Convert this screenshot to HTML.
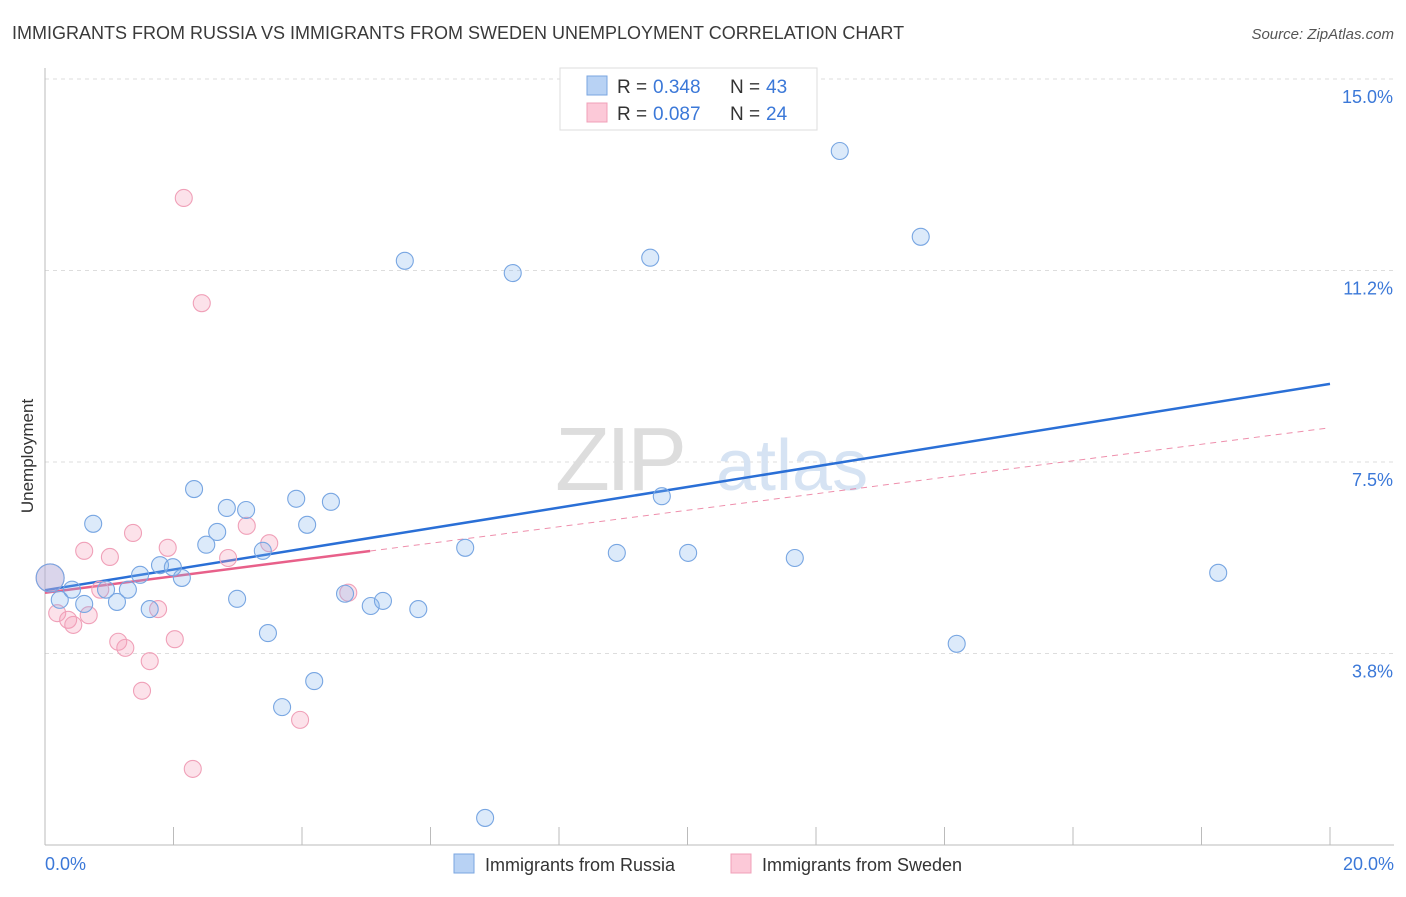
<!DOCTYPE html>
<html><head><meta charset="utf-8"><style>
body{margin:0;background:#fff;font-family:"Liberation Sans",sans-serif;}
svg text{font-family:"Liberation Sans",sans-serif;}
</style></head><body>
<svg id="chart" width="1406" height="892" viewBox="0 0 1406 892" xmlns="http://www.w3.org/2000/svg">
<text x="12" y="39" font-size="18" fill="#3a3a3a">IMMIGRANTS FROM RUSSIA VS IMMIGRANTS FROM SWEDEN UNEMPLOYMENT CORRELATION CHART</text>
<text x="1394" y="39" font-size="15" fill="#555" text-anchor="end" font-style="italic">Source: ZipAtlas.com</text>
<g id="grid"></g>
<g>
<text x="555" y="490" font-size="90" fill="#ddd" font-family="Liberation Serif" letter-spacing="-4">ZIP</text>
<text x="716" y="490" font-size="72" fill="#d6e3f3">atlas</text>
</g>
<line x1="45" y1="845" x2="1394" y2="845" stroke="#bbb"/>
<line x1="45" y1="68" x2="45" y2="845" stroke="#bbb"/>
<g id="ticks"></g>
<g id="trends"></g>
<g id="points"></g>
<text transform="translate(33,456) rotate(-90)" font-size="17" fill="#333" text-anchor="middle">Unemployment</text>
<text x="45" y="870" font-size="18" fill="#3b78d8">0.0%</text>
<text x="1394" y="870" font-size="18" fill="#3b78d8" text-anchor="end">20.0%</text>
<g>
<rect x="560" y="68" width="257" height="62" fill="#fff" stroke="#ddd"/>
<rect x="587" y="76" width="20" height="19" fill="#b8d2f4" stroke="#7aa6e0"/>
<rect x="587" y="103" width="20" height="19" fill="#fcc9d8" stroke="#f0a0b8"/>
<text x="617" y="93" font-size="19" fill="#333">R =</text>
<text x="653" y="93" font-size="19" fill="#3b78d8">0.348</text>
<text x="730" y="93" font-size="19" fill="#333">N =</text>
<text x="766" y="93" font-size="19" fill="#3b78d8">43</text>
<text x="617" y="120" font-size="19" fill="#333">R =</text>
<text x="653" y="120" font-size="19" fill="#3b78d8">0.087</text>
<text x="730" y="120" font-size="19" fill="#333">N =</text>
<text x="766" y="120" font-size="19" fill="#3b78d8">24</text>
</g>
<g>
<rect x="454" y="854" width="20" height="19" fill="#b8d2f4" stroke="#7aa6e0"/>
<text x="485" y="871" font-size="18" fill="#333">Immigrants from Russia</text>
<rect x="731" y="854" width="20" height="19" fill="#fcc9d8" stroke="#f0a0b8"/>
<text x="762" y="871" font-size="18" fill="#333">Immigrants from Sweden</text>
</g>
</svg>
<script>
const yTicks=[3.75,7.5,11.25,15];
const yTickLabels=["3.8%","7.5%","11.2%","15.0%"];
const xTicks=[0,2,4,6,8,10,12,14,16,18,20];
const russiaX=[0.08,0.23,0.42,0.61,0.75,0.95,1.12,1.29,1.48,1.63,1.79,1.99,2.13,2.32,2.51,2.68,2.83,2.99,3.13,3.39,3.47,3.69,3.91,4.08,4.19,4.45,4.67,5.07,5.26,5.60,5.81,6.54,6.85,7.28,8.90,9.42,9.60,10.01,11.67,12.37,13.63,14.19,18.26];
const russiaY=[5.23,4.80,5.00,4.72,6.29,5.00,4.76,5.00,5.29,4.62,5.48,5.44,5.23,6.97,5.88,6.13,6.60,4.82,6.56,5.76,4.15,2.70,6.78,6.27,3.21,6.72,4.92,4.68,4.78,11.44,4.62,5.82,0.53,11.20,5.72,11.50,6.83,5.72,5.62,13.59,11.91,3.94,5.33];
const swedenX=[0.08,0.19,0.36,0.44,0.61,0.68,0.86,1.01,1.14,1.25,1.37,1.51,1.63,1.76,1.91,2.02,2.16,2.30,2.44,2.85,3.14,3.49,3.97,4.72];
const swedenY=[5.23,4.54,4.41,4.31,5.76,4.50,5.00,5.64,3.98,3.86,6.11,3.02,3.60,4.62,5.82,4.03,12.67,1.49,10.61,5.62,6.25,5.91,2.45,4.94];
const russiaTrend=[4.99,9.03];
const swedenTrend=[4.94,8.17];
const swedenSolidEnd=5.06;

const NS="http://www.w3.org/2000/svg";
const X=v=>45+v/20*1285;
const Y=v=>79+(15-v)/3.75*191.5;
function mk(tag,attrs,parent){const e=document.createElementNS(NS,tag);for(const k in attrs)e.setAttribute(k,attrs[k]);parent.appendChild(e);return e;}
const grid=document.getElementById('grid'),ticks=document.getElementById('ticks'),trends=document.getElementById('trends'),pts=document.getElementById('points');
yTicks.forEach((t,i)=>{
 const l=mk('line',{x1:45,x2:1394,y1:Y(t),y2:Y(t),stroke:'#ddd','stroke-dasharray':'4,4'},grid);
 
 
 const tx=mk('text',{x:1393,y:Y(t)+24,'font-size':18,fill:'#3b78d8','text-anchor':'end'},ticks);
 tx.textContent=yTickLabels[i];
 
 
});
xTicks.forEach(t=>{
 const l=mk('line',{x1:X(t),x2:X(t),y1:827,y2:845,stroke:'#bbb'},ticks);
 
 
});
function trend(a,end,color,dashRest,name){
 const l=mk('line',{x1:X(0),y1:Y(a[0]),x2:X(end),y2:Y(a[0]+(a[1]-a[0])*end/20),stroke:color,'stroke-width':2.5},trends);
 
 
 if(dashRest){
  const d=mk('line',{x1:X(end),y1:Y(a[0]+(a[1]-a[0])*end/20),x2:X(20),y2:Y(a[1]),stroke:color,'stroke-width':1,'stroke-dasharray':'6,5',opacity:0.7},trends);
  
  
 }
}
function points(xs,ys,fill,stroke,name){
 xs.forEach((x,i)=>{
  const c=mk('circle',{cx:X(x),cy:Y(ys[i]),r:i===0?14:8.5,fill:fill,stroke:stroke,'stroke-width':1.1},pts);
  
  
 });
}
points(swedenX,swedenY,'rgba(246,160,186,0.3)','#f0a0b8','sweden-point');
points(russiaX,russiaY,'rgba(130,178,238,0.28)','#78a6e2','russia-point');
trend(swedenTrend,swedenSolidEnd,'#e8608a',true,'sweden-trend-line');
trend(russiaTrend,20,'#2a6fd6',false,'russia-trend-line');
</script>
</body></html>
